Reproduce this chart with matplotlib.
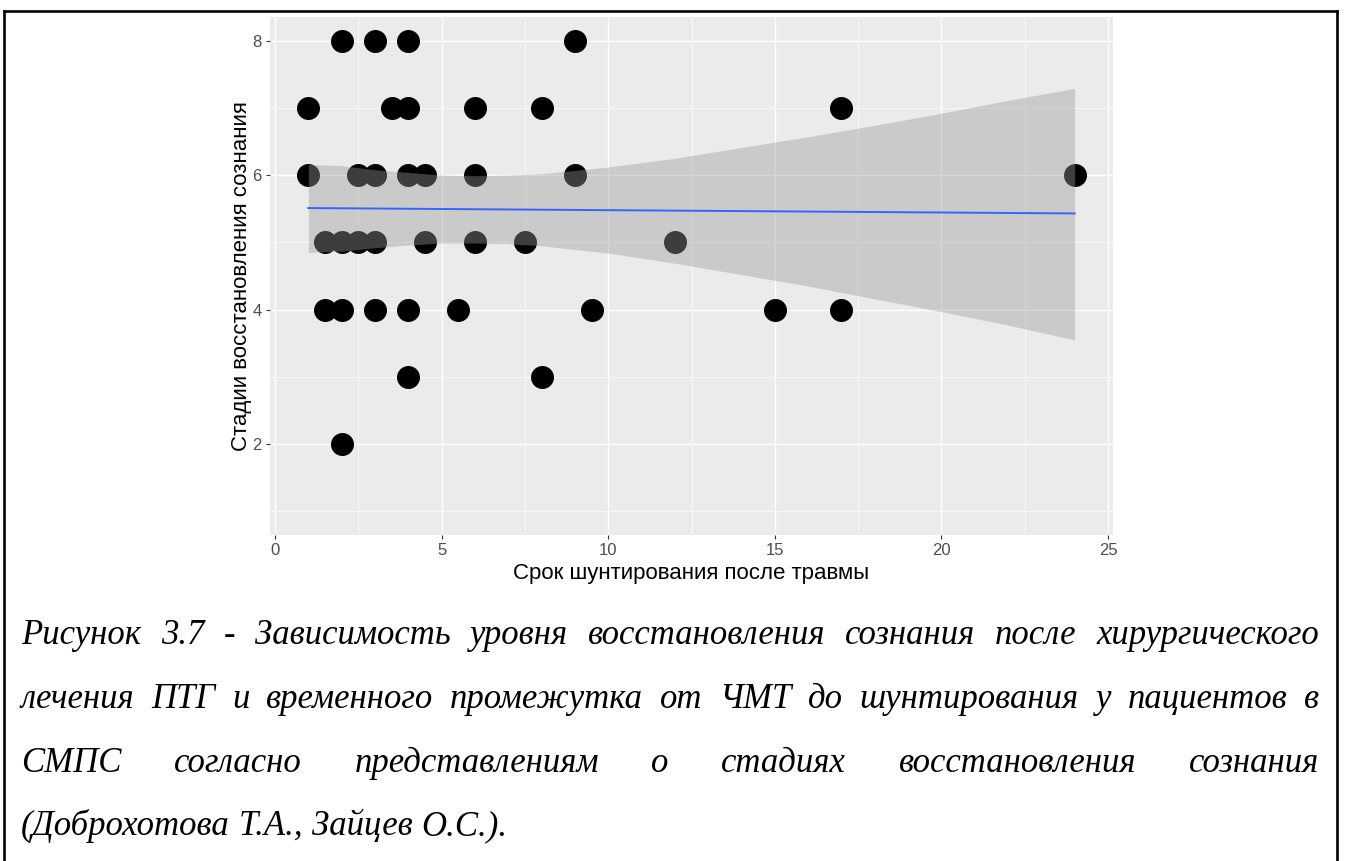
import matplotlib
matplotlib.use("Agg")
import matplotlib.pyplot as plt
from matplotlib.lines import Line2D

# ---- data ----
x_vals = [2, 3, 4, 9,
          1, 3.5, 4, 6, 8, 17,
          1, 2.5, 3, 4, 4.5, 6, 9, 24,
          1.5, 2, 2.5, 3, 4.5, 6, 7.5, 12,
          1.5, 2, 3, 4, 5.5, 9.5, 15, 17,
          4, 8,
          2]
y_vals = [8, 8, 8, 8,
          7, 7, 7, 7, 7, 7,
          6, 6, 6, 6, 6, 6, 6, 6,
          5, 5, 5, 5, 5, 5, 5, 5,
          4, 4, 4, 4, 4, 4, 4, 4,
          3, 3,
          2]

# fitted line and confidence band
fit_x = [1, 24]
fit_y = [5.51, 5.43]
band_x = [1, 2, 3, 4, 5, 6, 7, 8, 10, 12, 14, 16, 18, 20, 22, 24]
band_lo = [4.85, 4.87, 4.92, 4.96, 4.99, 4.99, 4.98, 4.95, 4.84, 4.69, 4.52, 4.35, 4.16, 3.97, 3.77, 3.55]
band_hi = [6.16, 6.14, 6.08, 6.04, 6.00, 5.99, 6.00, 6.02, 6.12, 6.25, 6.41, 6.57, 6.74, 6.92, 7.11, 7.29]

x_major = [0, 5, 10, 15, 20, 25]
x_minor = [2.5, 7.5, 12.5, 17.5, 22.5]
y_major = [2, 4, 6, 8]
y_minor = [1, 3, 5, 7]

x_title = "Срок шунтирования после травмы"
y_title = "Стадии восстановления сознания"
caption_lines = [
    "Рисунок 3.7 - Зависимость уровня восстановления сознания после хирургического",
    "лечения ПТГ и временного промежутка от ЧМТ до шунтирования у пациентов в",
    "СМПС согласно представлениям о стадиях восстановления сознания",
    "(Доброхотова Т.А., Зайцев О.С.).",
]

W, H = 1345, 861
fig = plt.figure(figsize=(W / 100, H / 100), dpi=100)
fig.patch.set_facecolor("white")

ax = fig.add_axes([270 / W, 1 - 535 / H, 843 / W, 518 / H])
ax.set_facecolor("#EBEBEB")
for s in ax.spines.values():
    s.set_visible(False)

ax.set_xlim(-0.15, 25.15)
ax.set_ylim(0.65, 8.35)
ax.set_xticks(x_major)
ax.set_xticks(x_minor, minor=True)
ax.set_yticks(y_major)
ax.set_yticks(y_minor, minor=True)
ax.grid(which="major", color="white", linewidth=1.0)
ax.grid(which="minor", color="white", linewidth=0.5)
ax.set_axisbelow(True)

ax.tick_params(which="major", length=3, width=0.8, color="#333333",
               labelsize=12, labelcolor="#4D4D4D", pad=3)
ax.tick_params(which="minor", length=0)
for lab in ax.get_xticklabels() + ax.get_yticklabels():
    lab.set_fontfamily("Liberation Sans")

ax.scatter(x_vals, y_vals, s=274, color="black", linewidths=0, zorder=2)
ax.fill_between(band_x, band_lo, band_hi, color="#999999", alpha=0.4,
                linewidth=0, zorder=3)
ax.plot(fit_x, fit_y, color="#3366FF", linewidth=1.4, zorder=4)

ax.set_xlabel(x_title, fontsize=16, family="Liberation Sans", color="black", va="center")
ax.set_ylabel(y_title, fontsize=16, family="Liberation Sans", color="black", va="center")
ax.xaxis.set_label_coords(0.5, -38 / 518)
ax.yaxis.set_label_coords(-29 / 843, 0.5)

# outer frame
lw = 1.9
fig.add_artist(Line2D([4.3 / W, 1337 / W], [1 - 10.5 / H, 1 - 10.5 / H],
                      transform=fig.transFigure, color="black", linewidth=lw,
                      solid_capstyle="projecting"))
fig.add_artist(Line2D([4.3 / W, 4.3 / W], [0, 1 - 10.5 / H],
                      transform=fig.transFigure, color="black", linewidth=lw))
fig.add_artist(Line2D([1337 / W, 1337 / W], [0, 1 - 10.5 / H],
                      transform=fig.transFigure, color="black", linewidth=lw))

# caption, justified
cap_left, cap_right = 21, 1319
baselines = [644, 708, 772, 835]
cap_kw = dict(fontsize=25, family="Liberation Serif", style="italic",
              color="black", va="baseline", ha="left")
fig.canvas.draw()
renderer = fig.canvas.get_renderer()
sp = fig.text(0, 0, "a a", **cap_kw)
sp2 = fig.text(0, 0, "aa", **cap_kw)
space_w = sp.get_window_extent(renderer).width - sp2.get_window_extent(renderer).width
sp.remove()
sp2.remove()
for i, (line, yb) in enumerate(zip(caption_lines, baselines)):
    words = line.split(" ")
    texts = [fig.text(0, 1 - yb / H, w, **cap_kw) for w in words]
    widths = [t.get_window_extent(renderer).width for t in texts]
    if i < 3:
        gap = (cap_right - cap_left - sum(widths)) / (len(words) - 1)
    else:
        gap = space_w
    xpos = cap_left
    for t, w in zip(texts, widths):
        t.set_x(xpos / W)
        xpos += w + gap

fig.savefig("out.png", dpi=100)
